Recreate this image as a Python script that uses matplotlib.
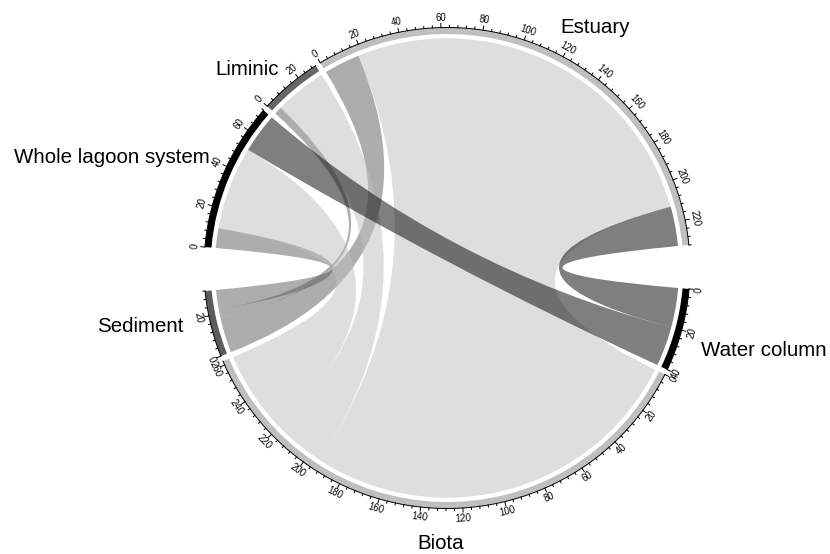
import numpy as np
import matplotlib.pyplot as plt
from matplotlib.path import Path
from matplotlib.patches import PathPatch, Wedge

plt.rcParams["font.family"] = ["Liberation Sans", "DejaVu Sans"]

# sectors, clockwise from 3 o'clock
sectors = ["Water column", "Biota", "Sediment", "Whole lagoon system", "Liminic", "Estuary"]
sector_colors = ["#000000", "#bfbfbf", "#5c5c5c", "#000000", "#666666", "#bfbfbf"]
gap_after = [1.3, 1.3, 10.5, 1.3, 1.3, 10.5]

# flows: matrix (rows) -> system (columns)
matrices = ["Sediment", "Biota", "Water column"]
systems = ["Estuary", "Liminic", "Whole lagoon system"]
sediment_flows = [18, 4, 10]
biota_flows = [194, 26, 42]
water_column_flows = [20, 0, 20]

tick_major = 20
tick_minor = 4

# sector name labels: (pixel x, pixel baseline y)
name_pos = {
    "Estuary": (595, 33),
    "Liminic": (247, 75),
    "Whole lagoon system": (112, 163),
    "Sediment": (140, 332),
    "Water column": (764, 356),
    "Biota": (441, 549),
}

W, H = 830, 554
CX, CY, RX, RY = 447, 268, 243, 240.5
R_OUT, R_IN, R_LINK = 1.0, 0.973, 0.955


def px(x, y):
    return (x - CX) / RX, (CY - y) / RY


def pol(theta, r):
    t = np.deg2rad(theta)
    return r * np.cos(t), r * np.sin(t)


flows = np.array([sediment_flows, biota_flows, water_column_flows], dtype=float)
totals = {m: flows[i].sum() for i, m in enumerate(matrices)}
totals.update({s: flows[:, j].sum() for j, s in enumerate(systems)})

k = (360 - sum(gap_after)) / sum(totals[s] for s in sectors)
start = {}
theta = -5.0
for s, g in zip(sectors, gap_after):
    start[s] = theta
    theta -= totals[s] * k + g

# link end positions within each sector
link_ends = {}
for i, m in enumerate(matrices):
    off = 0
    for j, s in enumerate(systems):
        link_ends[(m, s, "m")] = (off, off + flows[i, j])
        off += flows[i, j]
for j, s in enumerate(systems):
    off = 0
    for i, m in enumerate(matrices):
        link_ends[(m, s, "s")] = (off, off + flows[i, j])
        off += flows[i, j]

fig = plt.figure(figsize=(W / 100, H / 100), dpi=100)
ax = fig.add_axes([0, 0, 1, 1])
ax.set_xlim(-CX / RX, (W - CX) / RX)
ax.set_ylim(-(H - CY) / RY, CY / RY)
ax.axis("off")

# links
for i, m in enumerate(matrices):
    col = sector_colors[sectors.index(m)]
    for j, s in enumerate(systems):
        if flows[i, j] <= 0:
            continue
        u0, u1 = link_ends[(m, s, "m")]
        v0, v1 = link_ends[(m, s, "s")]
        a0, a1 = start[m] - u0 * k, start[m] - u1 * k
        b0, b1 = start[s] - v0 * k, start[s] - v1 * k
        arc_a = [pol(t, R_LINK) for t in np.linspace(a0, a1, 40)]
        arc_b = [pol(t, R_LINK) for t in np.linspace(b0, b1, 40)]
        verts = [arc_a[0]] + arc_a[1:]
        codes = [Path.MOVETO] + [Path.LINETO] * (len(arc_a) - 1)
        verts += [(0, 0), arc_b[0]]
        codes += [Path.CURVE3, Path.CURVE3]
        verts += arc_b[1:]
        codes += [Path.LINETO] * (len(arc_b) - 1)
        verts += [(0, 0), arc_a[0], arc_a[0]]
        codes += [Path.CURVE3, Path.CURVE3, Path.CLOSEPOLY]
        ax.add_patch(PathPatch(Path(verts, codes), facecolor=col, edgecolor="none",
                               alpha=0.5, zorder=2))

# outer track, axis and ticks
for s, col in zip(sectors, sector_colors):
    t0 = start[s]
    t1 = t0 - totals[s] * k
    ax.add_patch(Wedge((0, 0), R_OUT, t1, t0, width=R_OUT - R_IN,
                       facecolor=col, edgecolor="none", zorder=3))
    tt = np.linspace(t0, t1, 100)
    ax.plot(*pol(tt, R_OUT), color="black", lw=0.7, zorder=4)
    for u in np.arange(0, totals[s] + 1e-9, tick_minor):
        major = u % tick_major == 0
        th = t0 - u * k
        ln = 0.017 if major else 0.009
        x0, y0 = pol(th, R_OUT)
        x1, y1 = pol(th, R_OUT + ln)
        ax.plot([x0, x1], [y0, y1], color="black", lw=0.7, zorder=4)
        if major:
            tx, ty = pol(th, R_OUT + 0.042)
            a = (th + 180) % 360 - 180
            rot = a - 90 if 0 <= a <= 180 else a + 90
            ax.text(tx, ty, f"{int(u)}", fontsize=6.9, rotation=rot,
                    rotation_mode="anchor", ha="center", va="center", zorder=5)

for name, (x, y) in name_pos.items():
    dx, dy = px(x, y)
    ax.text(dx, dy, name, fontsize=14.8, ha="center", va="baseline", color="black")

fig.savefig("out.png", dpi=100)
